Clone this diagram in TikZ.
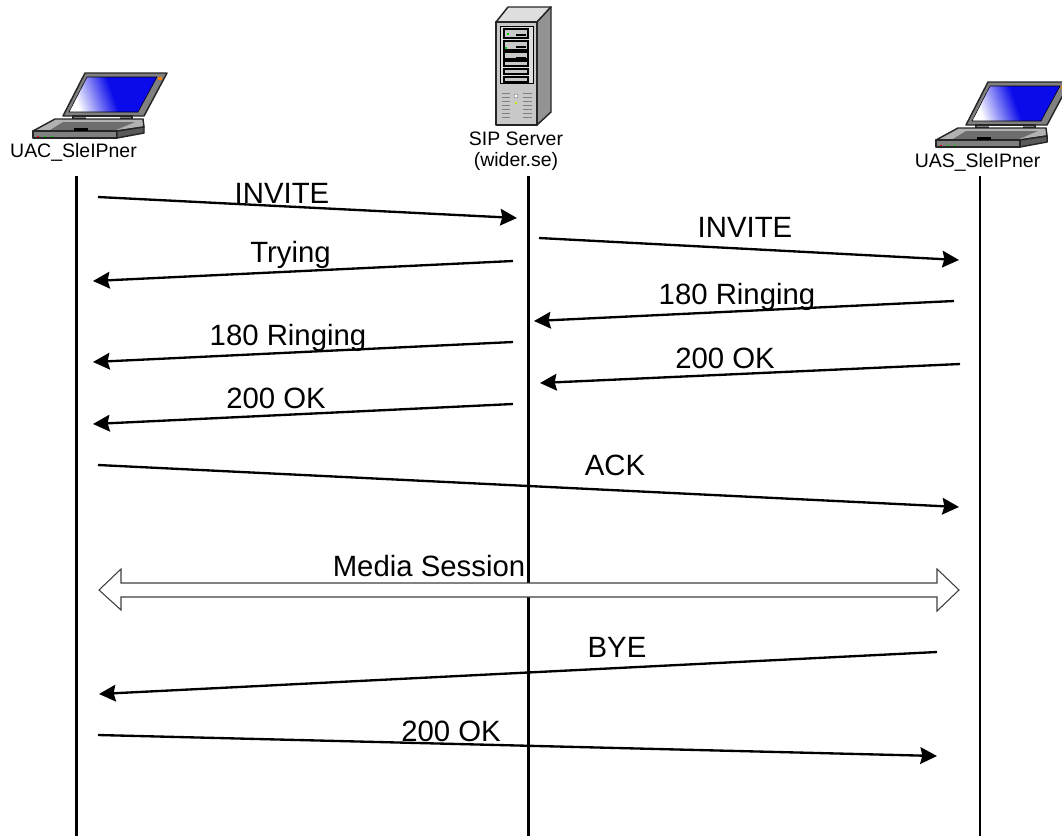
\documentclass[tikz,border=0pt]{standalone}
\usepackage{fontspec}
\setmainfont{Liberation Sans}
\usetikzlibrary{arrows.meta}
\definecolor{bodygray}{RGB}{128,128,128}
\definecolor{lightgray2}{RGB}{200,200,200}
\definecolor{scr}{RGB}{10,10,235}
\tikzset{
  lifeline/.style={line width=2pt},
  msg/.style={line width=1.75pt,-{Stealth[length=12.5pt,width=12.5pt,inset=1.5pt]}},
  lbl/.style={inner sep=0pt,font=\fontsize{22pt}{24pt}\selectfont},
  devlabel/.style={inner sep=0pt,align=center,font=\fontsize{14.6pt}{16pt}\selectfont},
  outline/.style={draw=black!85,line width=1.1pt,line join=round},
  laptop/.pic={
    \draw[outline,fill=bodygray] (85,73)--(167,73)--(144,116)--(63,116)--cycle;
    \shade[left color=white,right color=scr,middle color=scr,shading angle=110] (87,77)--(157,77)--(138,112)--(69,112)--cycle;
    \draw[black,line width=.4pt] (87,77)--(157,77)--(138,112)--(69,112)--cycle;
    \fill[orange] (158,77) rectangle (162,80);
    \draw[outline,fill=bodygray] (73,116) rectangle (132,119);
    \fill[white] (86,116.5) rectangle (120,119);
    \draw[outline,fill=lightgray2!70!bodygray] (33,131)--(55,119)--(143,119)--(144,127)--(117,131)--cycle;
    \fill[bodygray!85!black] (50,130)--(63,122)--(135,122)--(116,130)--cycle;
    \draw[outline,fill=bodygray] (33,131)--(117,131)--(117,138)--(33,138)--cycle;
    \draw[outline,fill=bodygray!70!black] (117,131)--(144,127)--(144,133)--(117,138)--cycle;
    \fill[black] (74,128) rectangle (88,131);
    \fill[red] (37,135.5) rectangle (39,136.5);
    \fill[green!80!black] (44,135.5) rectangle (46,136.5);
    \fill[green!80!black] (51,135.5) rectangle (53,136.5);
  }
}
\begin{document}
\begin{tikzpicture}[x=0.75pt,y=-0.75pt]
\clip (0,0) rectangle (1062,836);
\pic at (0,0) {laptop};
\pic at (903,9) {laptop};
% server
\draw[outline,fill=lightgray2!60] (496,22)--(508,7)--(551,7)--(537,22)--cycle;
\draw[outline,fill=bodygray!85] (537,22)--(551,7)--(551,112)--(537,125)--cycle;
\draw[outline,fill=lightgray2] (496,22) rectangle (537,125);
\draw[line width=.6pt,fill=lightgray2!60] (500,26) rectangle (533,83);
\foreach \ya/\yb in {29/38,41/50,52/59}{
  \draw[line width=.8pt,fill=lightgray2] (504,\ya) rectangle (528,\yb);
  \fill[black] (516,\ya+5) rectangle (526,\ya+7);
}
\fill[green!80!black] (507,33) rectangle (509,35);
\fill[green!80!black] (505,47) rectangle (507,49);
\foreach \ya/\yb in {61/66,69/74,77/82}{
  \draw[line width=.8pt,fill=lightgray2] (504,\ya) rectangle (528,\yb);
}
\foreach \yy in {93,97,101,105,109,113,117}{
  \draw[bodygray,line width=.7pt] (502,\yy)--(510,\yy);
  \draw[bodygray,line width=.7pt] (523,\yy)--(532,\yy);
}
\fill[white,draw=bodygray,line width=.4pt] (516,96) circle (2);
\fill[yellow!80!green] (516,103) circle (1.3);
% names
\node[devlabel] (uac) at (73.5,152) {UAC\_SleIPner};
\node[devlabel] (srv) at (516,151) {SIP Server\\(wider.se)};
\node[devlabel] (uas) at (977.5,162) {UAS\_SleIPner};
% lifelines
\coordinate (ua) at (76.5,176); \coordinate (ub) at (76.5,836);
\coordinate (sa) at (528.5,176); \coordinate (sb) at (528.5,836);
\coordinate (ra) at (980,176); \coordinate (rb) at (980,836);
\draw[lifeline] (ua)--(ub);
\draw[lifeline] (sa)--(sb);
\draw[lifeline] (ra)--(rb);
% messages
\foreach \n/\xa/\ya/\xb/\yb in {
  a/98/197/517/218, b/539/238/959/260, c/513/261/93/281,
  d/954/301/534/321, e/513/342/93/362, f/960/364/540/383,
  g/513/404/93/424, h/98/465/959/507, i/937/652/99/694, j/98/735/937/756}{
  \coordinate (\n s) at (\xa,\ya);
  \coordinate (\n e) at (\xb,\yb);
  \draw[msg] (\n s)--(\n e);
}
% media session
\draw[line width=.8pt,draw=black!75,fill=white,line join=miter]
  (99,590)--(121,569)--(121,583)--(937,583)--(937,569)--(959,590)--(937,611)--(937,597)--(121,597)--(121,610)--cycle;
% labels
\node[lbl] (l1) at (282,193) {INVITE};
\node[lbl] (l2) at (745,227) {INVITE};
\node[lbl] (l3) at (290.5,255) {Trying};
\node[lbl] (l4) at (737,297) {180 Ringing};
\node[lbl] (l5) at (288,338) {180 Ringing};
\node[lbl] (l6) at (725,358) {200 OK};
\node[lbl] (l7) at (276,398) {200 OK};
\node[lbl] (l8) at (615,465) {ACK};
\node[lbl] (l9) at (429,566) {Media Session};
\node[lbl] (l10) at (617,647) {BYE};
\node[lbl] (l11) at (451,731) {200 OK};
\end{tikzpicture}
\end{document}
